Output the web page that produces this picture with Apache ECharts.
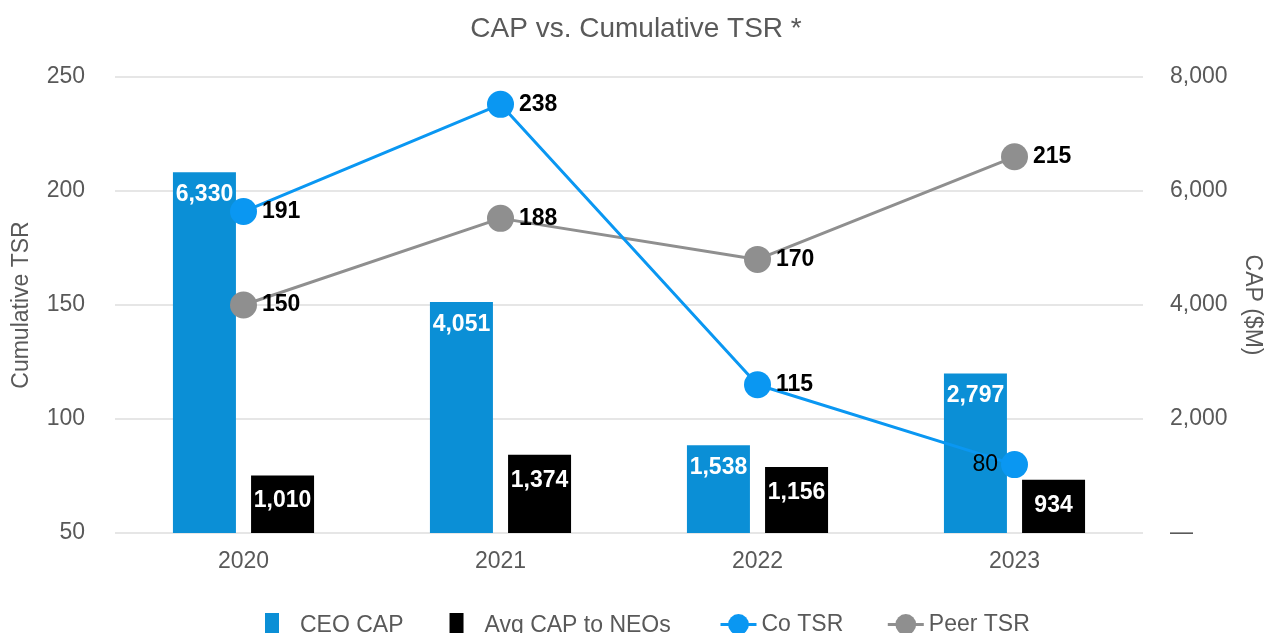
<!DOCTYPE html>
<html>
<head>
<meta charset="utf-8">
<script src="https://cdn.jsdelivr.net/npm/echarts@6/dist/echarts.min.js"></script>
<style>
  html, body { margin: 0; padding: 0; background: #ffffff; }
  #chart { width: 1272px; height: 633px; }
</style>
</head>
<body>
<div id="chart"></div>
<script>
// data
const years = ['2020', '2021', '2022', '2023'];
const ceoCap = [6330, 4051, 1538, 2797];
const avgNeoCap = [1010, 1374, 1156, 934];
const coTsr = [191, 238, 115, 80];
const peerTsr = [150, 188, 170, 215];

const textGray = '#595959';
const font = 'Liberation Sans, Arial, sans-serif';

function fmt(v) {
  return Number(v).toLocaleString('en-US');
}

const option = {
  backgroundColor: '#ffffff',
  textStyle: { fontFamily: font },
  title: {
    text: 'CAP vs. Cumulative TSR *',
    left: 'center',
    top: 10,
    textStyle: { color: textGray, fontSize: 28, fontWeight: 'normal', fontFamily: font },
  },
  grid: { left: 115, right: 127, top: 77, bottom: 100 },
  // two legends so bar and line icons can get their own widths
  legend: [
    {
      data: ['CEO CAP', 'Avg CAP to NEOs'],
      left: 260,
      top: 608,
      itemWidth: 14,
      itemHeight: 26,
      itemGap: 46,
      icon: 'rect',
      textStyle: { color: textGray, fontSize: 23, fontFamily: font, padding: [0, 0, 0, 16] },
    },
    {
      data: ['Co TSR', 'Peer TSR'],
      left: 714,
      top: 608,
      itemWidth: 36,
      itemHeight: 26,
      itemGap: 43,
      lineStyle: { width: 3 },
      textStyle: { color: textGray, fontSize: 23, fontFamily: font },
    },
  ],
  xAxis: {
    type: 'category',
    data: years,
    axisLine: { show: false },
    axisTick: { show: false },
    axisLabel: { color: textGray, fontSize: 23, margin: 17, fontFamily: font },
  },
  yAxis: [
    {
      type: 'value',
      min: 50,
      max: 250,
      interval: 50,
      name: 'Cumulative TSR',
      nameLocation: 'middle',
      nameGap: 82,
      nameTextStyle: { color: textGray, fontSize: 23, fontFamily: font },
      axisLine: { show: false },
      axisTick: { show: false },
      axisLabel: { color: textGray, fontSize: 23, margin: 30, fontFamily: font },
      splitLine: { lineStyle: { color: '#dedede', width: 1.5 } },
    },
    {
      type: 'value',
      min: 0,
      max: 8000,
      interval: 2000,
      name: 'CAP ($M)',
      nameLocation: 'middle',
      nameGap: 98,
      nameRotate: -90,
      nameTextStyle: { color: textGray, fontSize: 23, fontFamily: font },
      axisLine: { show: false },
      axisTick: { show: false },
      axisLabel: {
        color: textGray,
        fontSize: 23,
        margin: 27,
        fontFamily: font,
        formatter: v => (v === 0 ? '—' : fmt(v)),
      },
      splitLine: { show: false },
    },
  ],
  series: [
    {
      name: 'CEO CAP',
      type: 'bar',
      yAxisIndex: 1,
      data: ceoCap,
      barWidth: 63,
      barGap: '24%',
      itemStyle: { color: '#0b8fd6' },
      label: {
        show: true,
        position: 'insideTop',
        distance: 11,
        color: '#ffffff',
        fontSize: 23,
        fontWeight: 'bold',
        fontFamily: font,
        formatter: p => fmt(p.value),
      },
    },
    {
      name: 'Avg CAP to NEOs',
      type: 'bar',
      yAxisIndex: 1,
      data: avgNeoCap,
      barWidth: 63,
      itemStyle: { color: '#000000' },
      label: {
        show: true,
        position: 'insideTop',
        distance: 14,
        color: '#ffffff',
        fontSize: 23,
        fontWeight: 'bold',
        fontFamily: font,
        formatter: p => fmt(p.value),
      },
    },
    {
      name: 'Peer TSR',
      type: 'line',
      yAxisIndex: 0,
      data: peerTsr,
      symbol: 'circle',
      symbolSize: 27,
      lineStyle: { color: '#8f8f8f', width: 3 },
      itemStyle: { color: '#8f8f8f' },
      label: {
        show: true,
        position: 'right',
        distance: 5,
        color: '#000000',
        fontSize: 23,
        fontWeight: 'bold',
        fontFamily: font,
      },
    },
    {
      name: 'Co TSR',
      type: 'line',
      yAxisIndex: 0,
      data: coTsr.map((v, i) =>
        i === 3
          ? { value: v, label: { position: 'left', fontWeight: 'normal', distance: 3 } }
          : v
      ),
      symbol: 'circle',
      symbolSize: 27,
      lineStyle: { color: '#0a97f2', width: 3 },
      itemStyle: { color: '#0a97f2' },
      label: {
        show: true,
        position: 'right',
        distance: 5,
        color: '#000000',
        fontSize: 23,
        fontWeight: 'bold',
        fontFamily: font,
      },
    },
  ],
};

const myChart = echarts.init(document.getElementById('chart'));
myChart.setOption(option);
window.addEventListener('resize', () => {
  myChart.resize();
});
</script>
</body>
</html>
